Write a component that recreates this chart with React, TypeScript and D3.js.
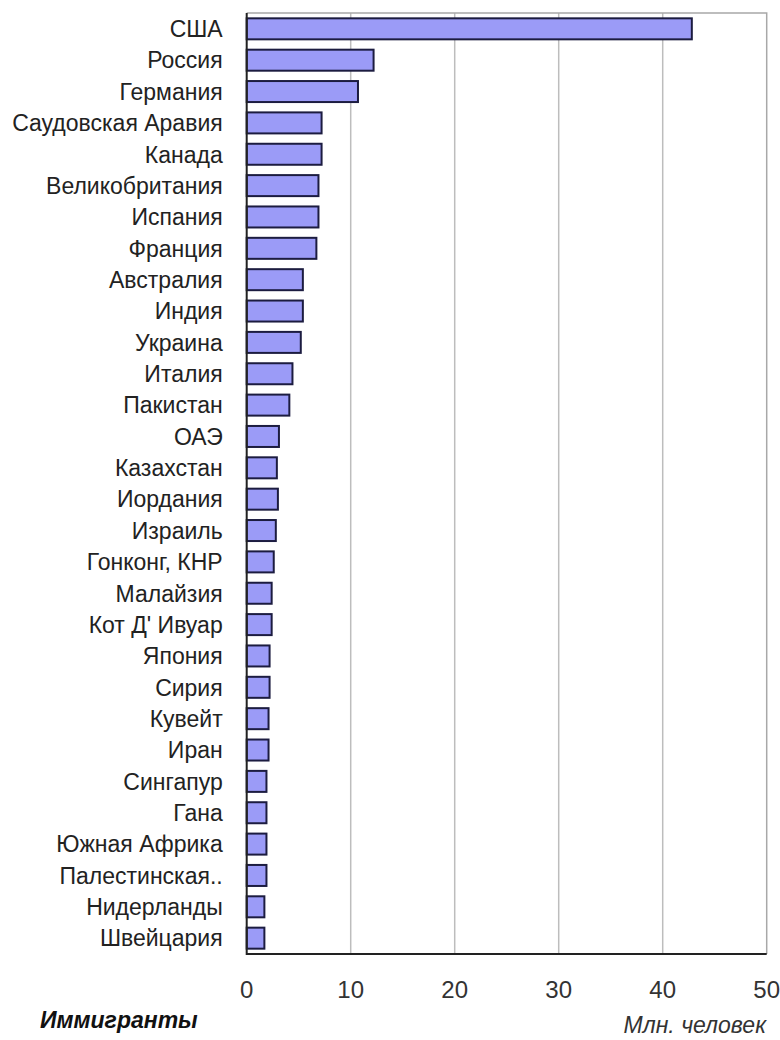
import { useEffect, useRef } from 'react';
import * as d3 from 'd3';

const countries = [
  'США', 'Россия', 'Германия', 'Саудовская Аравия', 'Канада', 'Великобритания',
  'Испания', 'Франция', 'Австралия', 'Индия', 'Украина', 'Италия', 'Пакистан',
  'ОАЭ', 'Казахстан', 'Иордания', 'Израиль', 'Гонконг, КНР', 'Малайзия',
  'Кот Д\' Ивуар', 'Япония', 'Сирия', 'Кувейт', 'Иран', 'Сингапур', 'Гана',
  'Южная Африка', 'Палестинская..', 'Нидерланды', 'Швейцария',
];

const immigrants = [
  42.8, 12.2, 10.7, 7.2, 7.2, 6.9,
  6.9, 6.7, 5.4, 5.4, 5.2, 4.4, 4.1,
  3.1, 2.9, 3.0, 2.8, 2.6, 2.4,
  2.4, 2.2, 2.2, 2.1, 2.1, 1.9, 1.9,
  1.9, 1.9, 1.7, 1.7,
];

const xTicks = [0, 10, 20, 30, 40, 50];

const title = 'Иммигранты';
const unit = 'Млн. человек';

export default function App() {
  const svgRef = useRef<SVGSVGElement>(null);

  useEffect(() => {
    if (!svgRef.current) return;
    const width = 780;
    const height = 1040;
    const margin = { top: 13, right: 13.3, bottom: 86, left: 246.7 };

    const svg = d3.select(svgRef.current);
    svg.selectAll('*').remove();

    const x = d3.scaleLinear()
      .domain([0, 50])
      .range([margin.left, width - margin.right]);

    const y = d3.scaleBand()
      .domain(countries)
      .range([margin.top, height - margin.bottom])
      .paddingInner(0.33)
      .paddingOuter(0.17);

    const font = '"Liberation Sans", Arial, sans-serif';

    // grid
    svg.append('g')
      .selectAll('line')
      .data(xTicks.filter(t => t > 0 && t < 50))
      .join('line')
      .attr('x1', d => x(d)).attr('x2', d => x(d))
      .attr('y1', margin.top).attr('y2', height - margin.bottom)
      .style('stroke', '#bdbdbd')
      .style('stroke-width', 1.5);

    // plot border (top, right)
    svg.append('path')
      .attr('d', `M${x(0)},${margin.top}H${x(50)}V${height - margin.bottom}`)
      .style('fill', 'none')
      .style('stroke', '#a8a8a8')
      .style('stroke-width', 1.5);

    // bars
    svg.append('g')
      .selectAll('rect')
      .data(immigrants)
      .join('rect')
      .attr('x', x(0))
      .attr('y', (_, i) => y(countries[i])!)
      .attr('width', d => x(d) - x(0))
      .attr('height', y.bandwidth())
      .style('fill', '#9b9bf7')
      .style('stroke', '#1c1c40')
      .style('stroke-width', 2);

    // axis lines
    svg.append('path')
      .attr('d', `M${x(0)},${margin.top}V${height - margin.bottom}H${x(50)}`)
      .style('fill', 'none')
      .style('stroke', '#222')
      .style('stroke-width', 2);

    // category labels
    svg.append('g')
      .selectAll('text')
      .data(countries)
      .join('text')
      .attr('x', x(0) - 24)
      .attr('y', d => y(d)! + y.bandwidth() / 2)
      .attr('dy', '0.36em')
      .attr('text-anchor', 'end')
      .style('font-family', font)
      .style('font-size', '23px')
      .style('fill', '#222')
      .text(d => d);

    // tick labels
    svg.append('g')
      .selectAll('text')
      .data(xTicks)
      .join('text')
      .attr('x', d => x(d))
      .attr('y', 998)
      .attr('text-anchor', 'middle')
      .style('font-family', font)
      .style('font-size', '24px')
      .style('fill', '#333')
      .text(d => d);

    svg.append('text')
      .attr('x', 40)
      .attr('y', 1028)
      .style('font-family', font)
      .style('font-size', '23px')
      .style('font-weight', 'bold')
      .style('font-style', 'italic')
      .style('fill', '#111')
      .text(title);

    svg.append('text')
      .attr('x', 766)
      .attr('y', 1033)
      .attr('text-anchor', 'end')
      .style('font-family', font)
      .style('font-size', '23px')
      .style('font-style', 'italic')
      .style('fill', '#333')
      .text(unit);
  }, []);

  return (
    <div style={{ position: 'absolute', left: 0, top: 0, width: 780, height: 1040, background: '#fff' }}>
      <svg ref={svgRef} width={780} height={1040} style={{ display: 'block' }}></svg>
    </div>
  );
}
